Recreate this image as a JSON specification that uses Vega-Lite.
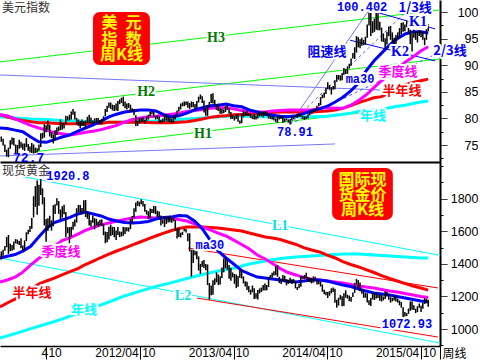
{
"$schema": "https://vega.github.io/schema/vega-lite/v6.json",
"padding": 0,
"spacing": 0,
"bounds": "flush",
"background": "white",
"config": {"view": {"stroke": null}, "axis": {"grid": false}, "font": "Liberation Sans"},
"resolve": {"scale": {"x": "independent", "y": "independent", "color": "independent"}},
"datasets": {
"wu": [
{"d":"2011-04-08","v":75.6,"v2":76.6},{"d":"2011-04-15","v":74.9,"v2":76.2},{"d":"2011-04-22","v":73.7,"v2":75.1},{"d":"2011-04-29","v":72.8,"v2":74.1},{"d":"2011-05-06","v":72.7,"v2":74.5},{"d":"2011-05-13","v":74.3,"v2":75.9},{"d":"2011-05-20","v":75.1,"v2":76.4},{"d":"2011-05-27","v":74.9,"v2":76.3},{"d":"2011-06-03","v":73.5,"v2":75.1},{"d":"2011-06-10","v":73.5,"v2":75.0},{"d":"2011-06-17","v":74.3,"v2":76.0},{"d":"2011-06-24","v":74.5,"v2":75.6},{"d":"2011-07-01","v":74.1,"v2":75.3},{"d":"2011-07-08","v":73.9,"v2":75.3},{"d":"2011-07-15","v":74.6,"v2":76.3},{"d":"2011-07-22","v":73.9,"v2":75.2},{"d":"2011-07-29","v":73.6,"v2":74.7},{"d":"2011-08-05","v":73.5,"v2":75.4},{"d":"2011-08-12","v":73.4,"v2":75.1},{"d":"2011-08-19","v":73.5,"v2":74.5},{"d":"2011-08-26","v":73.6,"v2":74.4},{"d":"2011-09-02","v":73.9,"v2":75.1},{"d":"2011-09-09","v":74.6,"v2":77.2},{"d":"2011-09-16","v":76.2,"v2":77.3},{"d":"2011-09-23","v":76.4,"v2":78.9},{"d":"2011-09-30","v":77.4,"v2":78.7},{"d":"2011-10-07","v":77.9,"v2":79.6},{"d":"2011-10-14","v":76.6,"v2":78.8},{"d":"2011-10-21","v":76.3,"v2":77.4},{"d":"2011-10-28","v":75.3,"v2":77.0},{"d":"2011-11-04","v":75.9,"v2":77.8},{"d":"2011-11-11","v":76.9,"v2":78.3},{"d":"2011-11-18","v":77.6,"v2":78.5},{"d":"2011-11-25","v":77.8,"v2":79.8},{"d":"2011-12-02","v":77.9,"v2":79.2},{"d":"2011-12-09","v":78.1,"v2":79.2},{"d":"2011-12-16","v":79.0,"v2":80.5},{"d":"2011-12-23","v":79.6,"v2":80.4},{"d":"2011-12-30","v":79.6,"v2":80.7},
{"d":"2012-01-06","v":79.8,"v2":81.3},{"d":"2012-01-13","v":80.7,"v2":81.8},{"d":"2012-01-20","v":79.8,"v2":81.3},{"d":"2012-01-27","v":78.9,"v2":80.1},{"d":"2012-02-03","v":78.6,"v2":79.8},{"d":"2012-02-10","v":78.2,"v2":79.5},{"d":"2012-02-17","v":78.6,"v2":79.8},{"d":"2012-02-24","v":78.6,"v2":79.5},{"d":"2012-03-02","v":78.1,"v2":79.6},{"d":"2012-03-09","v":79.2,"v2":80.3},{"d":"2012-03-16","v":79.1,"v2":80.7},{"d":"2012-03-23","v":79.1,"v2":80.2},{"d":"2012-03-30","v":78.9,"v2":79.6},{"d":"2012-04-06","v":79.1,"v2":80.0},{"d":"2012-04-13","v":79.3,"v2":80.1},{"d":"2012-04-20","v":79.1,"v2":80.1},{"d":"2012-04-27","v":78.9,"v2":79.7},{"d":"2012-05-04","v":78.9,"v2":79.9},{"d":"2012-05-11","v":79.6,"v2":80.4},{"d":"2012-05-18","v":80.4,"v2":81.8},{"d":"2012-05-25","v":81.2,"v2":82.4},{"d":"2012-06-01","v":82.0,"v2":83.0},{"d":"2012-06-08","v":81.8,"v2":83.0},{"d":"2012-06-15","v":81.5,"v2":82.6},{"d":"2012-06-22","v":81.4,"v2":82.5},{"d":"2012-06-29","v":81.5,"v2":82.8},{"d":"2012-07-06","v":81.4,"v2":83.3},{"d":"2012-07-13","v":82.7,"v2":83.6},{"d":"2012-07-20","v":82.9,"v2":83.9},{"d":"2012-07-27","v":82.3,"v2":84.1},{"d":"2012-08-03","v":81.9,"v2":83.2},{"d":"2012-08-10","v":81.7,"v2":82.8},{"d":"2012-08-17","v":82.0,"v2":82.9},{"d":"2012-08-24","v":81.4,"v2":82.6},{"d":"2012-08-31","v":81.2,"v2":81.9},{"d":"2012-09-07","v":80.6,"v2":81.8},{"d":"2012-09-14","v":78.6,"v2":80.6},{"d":"2012-09-21","v":78.6,"v2":79.6},{"d":"2012-09-28","v":79.1,"v2":80.1},{"d":"2012-10-05","v":79.3,"v2":80.1},{"d":"2012-10-12","v":79.4,"v2":80.2},{"d":"2012-10-19","v":79.0,"v2":79.8},{"d":"2012-10-26","v":79.5,"v2":80.4},{"d":"2012-11-02","v":79.8,"v2":80.7},{"d":"2012-11-09","v":80.4,"v2":81.2},{"d":"2012-11-16","v":80.8,"v2":81.5},{"d":"2012-11-23","v":80.3,"v2":81.2},{"d":"2012-11-30","v":79.8,"v2":80.4},{"d":"2012-12-07","v":79.9,"v2":80.6},{"d":"2012-12-14","v":79.2,"v2":80.4},{"d":"2012-12-21","v":79.2,"v2":79.7},{"d":"2012-12-28","v":79.3,"v2":80.0},
{"d":"2013-01-04","v":79.4,"v2":80.7},{"d":"2013-01-11","v":79.6,"v2":80.7},{"d":"2013-01-18","v":79.4,"v2":80.4},{"d":"2013-01-25","v":79.3,"v2":80.2},{"d":"2013-02-01","v":79.1,"v2":79.9},{"d":"2013-02-08","v":79.2,"v2":80.4},{"d":"2013-02-15","v":79.8,"v2":80.7},{"d":"2013-02-22","v":80.5,"v2":81.5},{"d":"2013-03-01","v":81.3,"v2":82.2},{"d":"2013-03-08","v":81.7,"v2":82.8},{"d":"2013-03-15","v":82.3,"v2":83.0},{"d":"2013-03-22","v":82.3,"v2":83.2},{"d":"2013-03-29","v":82.5,"v2":83.2},{"d":"2013-04-05","v":82.0,"v2":83.2},{"d":"2013-04-12","v":81.8,"v2":82.9},{"d":"2013-04-19","v":82.1,"v2":83.2},{"d":"2013-04-26","v":82.1,"v2":83.1},{"d":"2013-05-03","v":81.6,"v2":82.7},{"d":"2013-05-10","v":81.9,"v2":83.3},{"d":"2013-05-17","v":83.0,"v2":84.1},{"d":"2013-05-24","v":83.6,"v2":84.5},{"d":"2013-05-31","v":82.9,"v2":84.2},{"d":"2013-06-07","v":81.1,"v2":83.4},{"d":"2013-06-14","v":80.5,"v2":81.9},{"d":"2013-06-21","v":80.5,"v2":82.4},{"d":"2013-06-28","v":82.1,"v2":83.1},{"d":"2013-07-05","v":82.9,"v2":84.6},{"d":"2013-07-12","v":82.8,"v2":84.75},{"d":"2013-07-19","v":82.5,"v2":83.5},{"d":"2013-07-26","v":81.6,"v2":82.6},{"d":"2013-08-02","v":81.4,"v2":82.8},{"d":"2013-08-09","v":80.9,"v2":81.9},{"d":"2013-08-16","v":80.9,"v2":81.8},{"d":"2013-08-23","v":81.0,"v2":81.7},{"d":"2013-08-30","v":81.2,"v2":82.3},{"d":"2013-09-06","v":81.6,"v2":82.6},{"d":"2013-09-13","v":80.9,"v2":81.9},{"d":"2013-09-20","v":79.9,"v2":81.2},{"d":"2013-09-27","v":79.9,"v2":80.6},{"d":"2013-10-04","v":79.6,"v2":80.4},{"d":"2013-10-11","v":79.9,"v2":80.8},{"d":"2013-10-18","v":79.4,"v2":80.9},{"d":"2013-10-25","v":79.0,"v2":79.6},{"d":"2013-11-01","v":79.1,"v2":80.9},{"d":"2013-11-08","v":80.2,"v2":81.5},{"d":"2013-11-15","v":80.5,"v2":81.2},{"d":"2013-11-22","v":80.5,"v2":81.5},{"d":"2013-11-29","v":80.5,"v2":81.0},{"d":"2013-12-06","v":80.1,"v2":80.9},{"d":"2013-12-13","v":79.9,"v2":80.5},{"d":"2013-12-20","v":79.8,"v2":80.9},{"d":"2013-12-27","v":79.8,"v2":80.5},
{"d":"2014-01-03","v":80.0,"v2":81.0},{"d":"2014-01-10","v":80.4,"v2":81.3},{"d":"2014-01-17","v":80.4,"v2":81.2},{"d":"2014-01-24","v":80.2,"v2":81.3},{"d":"2014-01-31","v":80.5,"v2":81.4},{"d":"2014-02-07","v":80.5,"v2":81.3},{"d":"2014-02-14","v":80.0,"v2":81.0},{"d":"2014-02-21","v":79.9,"v2":80.5},{"d":"2014-02-28","v":79.8,"v2":80.4},{"d":"2014-03-07","v":79.6,"v2":80.3},{"d":"2014-03-14","v":79.3,"v2":80.0},{"d":"2014-03-21","v":79.2,"v2":80.4},{"d":"2014-03-28","v":79.8,"v2":80.4},{"d":"2014-04-04","v":79.9,"v2":80.5},{"d":"2014-04-11","v":79.2,"v2":80.4},{"d":"2014-04-18","v":79.3,"v2":80.0},{"d":"2014-04-25","v":79.6,"v2":80.0},{"d":"2014-05-02","v":79.2,"v2":79.8},{"d":"2014-05-09","v":78.91,"v2":79.9},{"d":"2014-05-16","v":79.6,"v2":80.3},{"d":"2014-05-23","v":79.9,"v2":80.4},{"d":"2014-05-30","v":80.2,"v2":80.6},{"d":"2014-06-06","v":80.1,"v2":80.8},{"d":"2014-06-13","v":80.3,"v2":80.9},{"d":"2014-06-20","v":80.3,"v2":80.9},{"d":"2014-06-27","v":79.9,"v2":80.5},{"d":"2014-07-04","v":79.7,"v2":80.4},{"d":"2014-07-11","v":79.9,"v2":80.4},{"d":"2014-07-18","v":80.0,"v2":80.8},{"d":"2014-07-25","v":80.6,"v2":81.1},{"d":"2014-08-01","v":80.9,"v2":81.6},{"d":"2014-08-08","v":81.3,"v2":81.7},{"d":"2014-08-15","v":81.2,"v2":81.7},{"d":"2014-08-22","v":81.5,"v2":82.4},{"d":"2014-08-29","v":82.3,"v2":82.9},{"d":"2014-09-05","v":82.5,"v2":84.0},{"d":"2014-09-12","v":83.8,"v2":84.5},{"d":"2014-09-19","v":83.9,"v2":84.9},{"d":"2014-09-26","v":84.6,"v2":85.8},{"d":"2014-10-03","v":85.5,"v2":86.8},{"d":"2014-10-10","v":85.4,"v2":86.3},{"d":"2014-10-17","v":84.5,"v2":85.9},{"d":"2014-10-24","v":85.4,"v2":86.1},{"d":"2014-10-31","v":85.5,"v2":87.2},{"d":"2014-11-07","v":86.9,"v2":88.2},{"d":"2014-11-14","v":87.3,"v2":88.2},{"d":"2014-11-21","v":87.1,"v2":88.1},{"d":"2014-11-28","v":87.2,"v2":88.5},{"d":"2014-12-05","v":88.2,"v2":89.5},{"d":"2014-12-12","v":88.2,"v2":89.3},{"d":"2014-12-19","v":88.4,"v2":89.8},{"d":"2014-12-26","v":89.4,"v2":90.3},
{"d":"2015-01-02","v":89.9,"v2":91.3},{"d":"2015-01-09","v":91.3,"v2":92.3},{"d":"2015-01-16","v":91.2,"v2":93.4},{"d":"2015-01-23","v":92.4,"v2":95.5},{"d":"2015-01-30","v":93.4,"v2":95.3},{"d":"2015-02-06","v":93.2,"v2":94.9},{"d":"2015-02-13","v":93.7,"v2":95.2},{"d":"2015-02-20","v":93.8,"v2":94.8},{"d":"2015-02-27","v":93.9,"v2":95.4},{"d":"2015-03-06","v":95.2,"v2":97.7},{"d":"2015-03-13","v":97.5,"v2":100.4},{"d":"2015-03-20","v":95.5,"v2":100.2},{"d":"2015-03-27","v":96.1,"v2":98.3},{"d":"2015-04-03","v":96.3,"v2":98.8},{"d":"2015-04-10","v":96.7,"v2":99.9},{"d":"2015-04-17","v":96.6,"v2":99.8},{"d":"2015-04-24","v":96.6,"v2":98.2},{"d":"2015-05-01","v":94.5,"v2":97.1},{"d":"2015-05-08","v":94.4,"v2":96.0},{"d":"2015-05-15","v":93.1,"v2":95.1},{"d":"2015-05-22","v":93.9,"v2":96.3},{"d":"2015-05-29","v":95.5,"v2":97.3},{"d":"2015-06-05","v":94.8,"v2":97.4},{"d":"2015-06-12","v":94.3,"v2":96.2},{"d":"2015-06-19","v":93.8,"v2":95.2},{"d":"2015-06-26","v":93.8,"v2":95.7},{"d":"2015-07-03","v":94.9,"v2":96.2},{"d":"2015-07-10","v":95.4,"v2":97.0},{"d":"2015-07-17","v":95.8,"v2":98.0},{"d":"2015-07-24","v":96.3,"v2":98.1},{"d":"2015-07-31","v":96.4,"v2":97.7},{"d":"2015-08-07","v":97.2,"v2":98.3},{"d":"2015-08-14","v":95.9,"v2":97.5},{"d":"2015-08-21","v":94.0,"v2":96.7},{"d":"2015-08-28","v":92.6,"v2":96.0},{"d":"2015-09-04","v":95.2,"v2":96.7},{"d":"2015-09-11","v":94.8,"v2":96.3},{"d":"2015-09-18","v":94.3,"v2":96.4},{"d":"2015-09-25","v":95.5,"v2":96.6},{"d":"2015-10-02","v":95.3,"v2":96.5},{"d":"2015-10-09","v":94.8,"v2":96.3},{"d":"2015-10-16","v":93.8,"v2":95.2},{"d":"2015-10-23","v":94.8,"v2":96.8},{"d":"2015-10-30","v":96.4,"v2":97.8}
],
"wg": [
{"d":"2011-04-08","v":1427,"v2":1476},{"d":"2011-04-15","v":1450,"v2":1487},{"d":"2011-04-22","v":1480,"v2":1509},{"d":"2011-04-29","v":1502,"v2":1564},{"d":"2011-05-06","v":1462,"v2":1577},{"d":"2011-05-13","v":1478,"v2":1524},{"d":"2011-05-20","v":1480,"v2":1515},{"d":"2011-05-27","v":1487,"v2":1537},{"d":"2011-06-03","v":1526,"v2":1552},{"d":"2011-06-10","v":1521,"v2":1549},{"d":"2011-06-17","v":1515,"v2":1541},{"d":"2011-06-24","v":1496,"v2":1557},{"d":"2011-07-01","v":1478,"v2":1513},{"d":"2011-07-08","v":1482,"v2":1544},{"d":"2011-07-15","v":1540,"v2":1594},{"d":"2011-07-22","v":1582,"v2":1610},{"d":"2011-07-29","v":1595,"v2":1632},{"d":"2011-08-05","v":1616,"v2":1681},{"d":"2011-08-12","v":1685,"v2":1815},{"d":"2011-08-19","v":1750,"v2":1877},{"d":"2011-08-26","v":1702,"v2":1912},{"d":"2011-09-02","v":1756,"v2":1885},{"d":"2011-09-09","v":1822,"v2":1921},{"d":"2011-09-16","v":1765,"v2":1863},{"d":"2011-09-23","v":1636,"v2":1808},{"d":"2011-09-30","v":1535,"v2":1675},{"d":"2011-10-07","v":1601,"v2":1680},{"d":"2011-10-14","v":1629,"v2":1695},{"d":"2011-10-21","v":1604,"v2":1667},{"d":"2011-10-28","v":1630,"v2":1760},{"d":"2011-11-04","v":1706,"v2":1766},{"d":"2011-11-11","v":1758,"v2":1803},{"d":"2011-11-18","v":1707,"v2":1785},{"d":"2011-11-25","v":1672,"v2":1734},{"d":"2011-12-02","v":1684,"v2":1754},{"d":"2011-12-09","v":1705,"v2":1763},{"d":"2011-12-16","v":1564,"v2":1718},{"d":"2011-12-23","v":1588,"v2":1625},{"d":"2011-12-30","v":1523,"v2":1625},
{"d":"2012-01-06","v":1567,"v2":1627},{"d":"2012-01-13","v":1610,"v2":1658},{"d":"2012-01-20","v":1630,"v2":1672},{"d":"2012-01-27","v":1653,"v2":1741},{"d":"2012-02-03","v":1718,"v2":1762},{"d":"2012-02-10","v":1712,"v2":1761},{"d":"2012-02-17","v":1705,"v2":1743},{"d":"2012-02-24","v":1725,"v2":1790},{"d":"2012-03-02","v":1688,"v2":1792},{"d":"2012-03-09","v":1677,"v2":1715},{"d":"2012-03-16","v":1636,"v2":1713},{"d":"2012-03-23","v":1627,"v2":1668},{"d":"2012-03-30","v":1653,"v2":1696},{"d":"2012-04-06","v":1612,"v2":1680},{"d":"2012-04-13","v":1636,"v2":1677},{"d":"2012-04-20","v":1627,"v2":1660},{"d":"2012-04-27","v":1637,"v2":1670},{"d":"2012-05-04","v":1632,"v2":1673},{"d":"2012-05-11","v":1576,"v2":1645},{"d":"2012-05-18","v":1527,"v2":1598},{"d":"2012-05-25","v":1532,"v2":1595},{"d":"2012-06-01","v":1549,"v2":1628},{"d":"2012-06-08","v":1571,"v2":1641},{"d":"2012-06-15","v":1577,"v2":1627},{"d":"2012-06-22","v":1563,"v2":1626},{"d":"2012-06-29","v":1547,"v2":1605},{"d":"2012-07-06","v":1577,"v2":1626},{"d":"2012-07-13","v":1564,"v2":1599},{"d":"2012-07-20","v":1568,"v2":1597},{"d":"2012-07-27","v":1572,"v2":1627},{"d":"2012-08-03","v":1583,"v2":1624},{"d":"2012-08-10","v":1600,"v2":1624},{"d":"2012-08-17","v":1598,"v2":1624},{"d":"2012-08-24","v":1613,"v2":1675},{"d":"2012-08-31","v":1652,"v2":1693},{"d":"2012-09-07","v":1683,"v2":1741},{"d":"2012-09-14","v":1720,"v2":1777},{"d":"2012-09-21","v":1756,"v2":1787},{"d":"2012-09-28","v":1752,"v2":1781},{"d":"2012-10-05","v":1766,"v2":1796},{"d":"2012-10-12","v":1752,"v2":1786},{"d":"2012-10-19","v":1719,"v2":1768},{"d":"2012-10-26","v":1702,"v2":1730},{"d":"2012-11-02","v":1675,"v2":1722},{"d":"2012-11-09","v":1681,"v2":1740},{"d":"2012-11-16","v":1712,"v2":1737},{"d":"2012-11-23","v":1710,"v2":1755},{"d":"2012-11-30","v":1705,"v2":1754},{"d":"2012-12-07","v":1684,"v2":1726},{"d":"2012-12-14","v":1688,"v2":1722},{"d":"2012-12-21","v":1636,"v2":1697},{"d":"2012-12-28","v":1647,"v2":1670},
{"d":"2013-01-04","v":1626,"v2":1694},{"d":"2013-01-11","v":1645,"v2":1679},{"d":"2013-01-18","v":1654,"v2":1694},{"d":"2013-01-25","v":1656,"v2":1696},{"d":"2013-02-01","v":1652,"v2":1681},{"d":"2013-02-08","v":1662,"v2":1682},{"d":"2013-02-15","v":1605,"v2":1669},{"d":"2013-02-22","v":1555,"v2":1619},{"d":"2013-03-01","v":1565,"v2":1619},{"d":"2013-03-08","v":1562,"v2":1591},{"d":"2013-03-15","v":1577,"v2":1597},{"d":"2013-03-22","v":1600,"v2":1616},{"d":"2013-03-29","v":1592,"v2":1614},{"d":"2013-04-05","v":1539,"v2":1588},{"d":"2013-04-12","v":1476,"v2":1587},{"d":"2013-04-19","v":1321,"v2":1486},{"d":"2013-04-26","v":1406,"v2":1485},{"d":"2013-05-03","v":1453,"v2":1488},{"d":"2013-05-10","v":1428,"v2":1477},{"d":"2013-05-17","v":1359,"v2":1446},{"d":"2013-05-24","v":1338,"v2":1400},{"d":"2013-05-31","v":1382,"v2":1417},{"d":"2013-06-07","v":1375,"v2":1424},{"d":"2013-06-14","v":1361,"v2":1399},{"d":"2013-06-21","v":1270,"v2":1396},{"d":"2013-06-28","v":1180,"v2":1282},{"d":"2013-07-05","v":1207,"v2":1267},{"d":"2013-07-12","v":1211,"v2":1299},{"d":"2013-07-19","v":1271,"v2":1311},{"d":"2013-07-26","v":1287,"v2":1348},{"d":"2013-08-02","v":1270,"v2":1335},{"d":"2013-08-09","v":1273,"v2":1324},{"d":"2013-08-16","v":1313,"v2":1377},{"d":"2013-08-23","v":1348,"v2":1433},{"d":"2013-08-30","v":1375,"v2":1434},{"d":"2013-09-06","v":1364,"v2":1424},{"d":"2013-09-13","v":1308,"v2":1393},{"d":"2013-09-20","v":1296,"v2":1375},{"d":"2013-09-27","v":1317,"v2":1347},{"d":"2013-10-04","v":1277,"v2":1338},{"d":"2013-10-11","v":1251,"v2":1335},{"d":"2013-10-18","v":1259,"v2":1326},{"d":"2013-10-25","v":1315,"v2":1361},{"d":"2013-11-01","v":1310,"v2":1362},{"d":"2013-11-08","v":1280,"v2":1323},{"d":"2013-11-15","v":1261,"v2":1293},{"d":"2013-11-22","v":1239,"v2":1290},{"d":"2013-11-29","v":1226,"v2":1264},{"d":"2013-12-06","v":1211,"v2":1241},{"d":"2013-12-13","v":1226,"v2":1267},{"d":"2013-12-20","v":1185,"v2":1250},{"d":"2013-12-27","v":1187,"v2":1219},
{"d":"2014-01-03","v":1182,"v2":1240},{"d":"2014-01-10","v":1219,"v2":1249},{"d":"2014-01-17","v":1227,"v2":1255},{"d":"2014-01-24","v":1237,"v2":1271},{"d":"2014-01-31","v":1237,"v2":1280},{"d":"2014-02-07","v":1238,"v2":1270},{"d":"2014-02-14","v":1258,"v2":1320},{"d":"2014-02-21","v":1311,"v2":1332},{"d":"2014-02-28","v":1317,"v2":1345},{"d":"2014-03-07","v":1328,"v2":1355},{"d":"2014-03-14","v":1330,"v2":1383},{"d":"2014-03-21","v":1321,"v2":1392},{"d":"2014-03-28","v":1282,"v2":1320},{"d":"2014-04-04","v":1277,"v2":1307},{"d":"2014-04-11","v":1296,"v2":1331},{"d":"2014-04-18","v":1290,"v2":1327},{"d":"2014-04-25","v":1268,"v2":1306},{"d":"2014-05-02","v":1277,"v2":1303},{"d":"2014-05-09","v":1285,"v2":1315},{"d":"2014-05-16","v":1277,"v2":1305},{"d":"2014-05-23","v":1283,"v2":1306},{"d":"2014-05-30","v":1250,"v2":1296},{"d":"2014-06-06","v":1240,"v2":1258},{"d":"2014-06-13","v":1250,"v2":1278},{"d":"2014-06-20","v":1260,"v2":1325},{"d":"2014-06-27","v":1309,"v2":1326},{"d":"2014-07-04","v":1311,"v2":1332},{"d":"2014-07-11","v":1309,"v2":1346},{"d":"2014-07-18","v":1292,"v2":1320},{"d":"2014-07-25","v":1287,"v2":1313},{"d":"2014-08-01","v":1280,"v2":1312},{"d":"2014-08-08","v":1285,"v2":1323},{"d":"2014-08-15","v":1297,"v2":1321},{"d":"2014-08-22","v":1273,"v2":1302},{"d":"2014-08-29","v":1275,"v2":1297},{"d":"2014-09-05","v":1261,"v2":1290},{"d":"2014-09-12","v":1229,"v2":1273},{"d":"2014-09-19","v":1213,"v2":1241},{"d":"2014-09-26","v":1208,"v2":1229},{"d":"2014-10-03","v":1190,"v2":1228},{"d":"2014-10-10","v":1205,"v2":1233},{"d":"2014-10-17","v":1219,"v2":1250},{"d":"2014-10-24","v":1227,"v2":1255},{"d":"2014-10-31","v":1161,"v2":1248},{"d":"2014-11-07","v":1131,"v2":1180},{"d":"2014-11-14","v":1144,"v2":1192},{"d":"2014-11-21","v":1180,"v2":1209},{"d":"2014-11-28","v":1140,"v2":1202},{"d":"2014-12-05","v":1142,"v2":1220},{"d":"2014-12-12","v":1192,"v2":1238},{"d":"2014-12-19","v":1187,"v2":1210},{"d":"2014-12-26","v":1171,"v2":1205},
{"d":"2015-01-02","v":1167,"v2":1196},{"d":"2015-01-09","v":1197,"v2":1224},{"d":"2015-01-16","v":1222,"v2":1282},{"d":"2015-01-23","v":1275,"v2":1308},{"d":"2015-01-30","v":1253,"v2":1300},{"d":"2015-02-06","v":1232,"v2":1285},{"d":"2015-02-13","v":1216,"v2":1245},{"d":"2015-02-20","v":1192,"v2":1235},{"d":"2015-02-27","v":1192,"v2":1221},{"d":"2015-03-06","v":1163,"v2":1220},{"d":"2015-03-13","v":1147,"v2":1177},{"d":"2015-03-20","v":1142,"v2":1190},{"d":"2015-03-27","v":1182,"v2":1220},{"d":"2015-04-03","v":1178,"v2":1224},{"d":"2015-04-10","v":1187,"v2":1224},{"d":"2015-04-17","v":1190,"v2":1209},{"d":"2015-04-24","v":1174,"v2":1210},{"d":"2015-05-01","v":1169,"v2":1213},{"d":"2015-05-08","v":1176,"v2":1200},{"d":"2015-05-15","v":1185,"v2":1232},{"d":"2015-05-22","v":1199,"v2":1228},{"d":"2015-05-29","v":1180,"v2":1214},{"d":"2015-06-05","v":1162,"v2":1196},{"d":"2015-06-12","v":1170,"v2":1191},{"d":"2015-06-19","v":1175,"v2":1205},{"d":"2015-06-26","v":1169,"v2":1205},{"d":"2015-07-03","v":1162,"v2":1187},{"d":"2015-07-10","v":1146,"v2":1175},{"d":"2015-07-17","v":1131,"v2":1166},{"d":"2015-07-24","v":1073,"v2":1134},{"d":"2015-07-31","v":1077,"v2":1105},{"d":"2015-08-07","v":1080,"v2":1098},{"d":"2015-08-14","v":1093,"v2":1126},{"d":"2015-08-21","v":1112,"v2":1169},{"d":"2015-08-28","v":1119,"v2":1170},{"d":"2015-09-04","v":1117,"v2":1146},{"d":"2015-09-11","v":1098,"v2":1125},{"d":"2015-09-18","v":1104,"v2":1140},{"d":"2015-09-25","v":1131,"v2":1157},{"d":"2015-10-02","v":1105,"v2":1143},{"d":"2015-10-09","v":1125,"v2":1160},{"d":"2015-10-16","v":1154,"v2":1191},{"d":"2015-10-23","v":1160,"v2":1184},{"d":"2015-10-30","v":1137,"v2":1180}
],
"topma": [
{"k":"c","d":"2011-04-03","v":80.3},{"k":"c","d":"2011-06-01","v":80.1},{"k":"c","d":"2011-08-01","v":79.9},{"k":"c","d":"2011-10-01","v":79.8},{"k":"c","d":"2011-12-01","v":79.6},{"k":"c","d":"2012-02-01","v":79.5},{"k":"c","d":"2012-04-01","v":79.4},{"k":"c","d":"2012-06-01","v":79.3},{"k":"c","d":"2012-08-01","v":79.3},{"k":"c","d":"2012-10-01","v":79.4},{"k":"c","d":"2012-12-01","v":79.5},{"k":"c","d":"2013-02-01","v":79.7},{"k":"c","d":"2013-04-01","v":79.9},{"k":"c","d":"2013-06-01","v":80.1},{"k":"c","d":"2013-08-01","v":80.3},{"k":"c","d":"2013-10-01","v":80.5},{"k":"c","d":"2013-12-01","v":80.4},{"k":"c","d":"2014-02-01","v":80.3},{"k":"c","d":"2014-04-01","v":80.3},{"k":"c","d":"2014-06-01","v":80.3},{"k":"c","d":"2014-08-01","v":80.3},{"k":"c","d":"2014-10-01","v":80.4},{"k":"c","d":"2014-11-01","v":80.6},{"k":"c","d":"2014-12-01","v":80.8},{"k":"c","d":"2015-01-01","v":81.0},{"k":"c","d":"2015-02-01","v":81.3},{"k":"c","d":"2015-03-01","v":81.5},{"k":"c","d":"2015-04-01","v":81.6},{"k":"c","d":"2015-05-01","v":81.7},{"k":"c","d":"2015-06-01","v":82.0},{"k":"c","d":"2015-07-01","v":82.3},{"k":"c","d":"2015-08-01","v":82.5},{"k":"c","d":"2015-09-01","v":82.8},{"k":"c","d":"2015-10-01","v":83.1},{"k":"c","d":"2015-10-30","v":83.3},
{"k":"r","d":"2011-04-03","v":80.7},{"k":"r","d":"2011-05-01","v":80.3},{"k":"r","d":"2011-06-01","v":79.9},{"k":"r","d":"2011-07-01","v":79.6},{"k":"r","d":"2011-08-01","v":79.4},{"k":"r","d":"2011-09-01","v":79.2},{"k":"r","d":"2011-10-01","v":79.2},{"k":"r","d":"2011-11-01","v":79.1},{"k":"r","d":"2011-12-01","v":79.0},{"k":"r","d":"2012-01-01","v":79.0},{"k":"r","d":"2012-03-01","v":79.0},{"k":"r","d":"2012-05-01","v":79.1},{"k":"r","d":"2012-06-01","v":79.3},{"k":"r","d":"2012-08-01","v":79.3},{"k":"r","d":"2012-10-01","v":79.3},{"k":"r","d":"2012-12-01","v":79.2},{"k":"r","d":"2013-02-01","v":79.2},{"k":"r","d":"2013-03-01","v":79.3},{"k":"r","d":"2013-04-01","v":79.4},{"k":"r","d":"2013-05-01","v":79.6},{"k":"r","d":"2013-06-01","v":79.9},{"k":"r","d":"2013-07-01","v":80.2},{"k":"r","d":"2013-08-01","v":80.4},{"k":"r","d":"2013-09-01","v":80.5},{"k":"r","d":"2013-10-01","v":80.7},{"k":"r","d":"2013-12-01","v":80.8},{"k":"r","d":"2014-01-01","v":80.9},{"k":"r","d":"2014-02-01","v":81.0},{"k":"r","d":"2014-03-01","v":81.1},{"k":"r","d":"2014-04-01","v":81.2},{"k":"r","d":"2014-08-01","v":81.2},{"k":"r","d":"2014-09-01","v":81.3},{"k":"r","d":"2014-10-01","v":81.4},{"k":"r","d":"2014-11-01","v":81.6},{"k":"r","d":"2014-12-01","v":81.9},{"k":"r","d":"2015-01-01","v":82.4},{"k":"r","d":"2015-02-01","v":83.0},{"k":"r","d":"2015-03-01","v":83.4},{"k":"r","d":"2015-04-01","v":83.9},{"k":"r","d":"2015-05-01","v":84.1},{"k":"r","d":"2015-06-01","v":84.8},{"k":"r","d":"2015-07-01","v":85.6},{"k":"r","d":"2015-08-01","v":86.3},{"k":"r","d":"2015-09-01","v":86.8},{"k":"r","d":"2015-10-01","v":87.1},{"k":"r","d":"2015-10-30","v":87.4},
{"k":"m","d":"2011-04-03","v":80.7},{"k":"m","d":"2011-05-01","v":80.5},{"k":"m","d":"2011-06-01","v":79.9},{"k":"m","d":"2011-07-01","v":79.3},{"k":"m","d":"2011-08-01","v":78.7},{"k":"m","d":"2011-09-01","v":78.2},{"k":"m","d":"2011-10-01","v":77.8},{"k":"m","d":"2011-11-01","v":77.3},{"k":"m","d":"2011-12-01","v":77.1},{"k":"m","d":"2012-01-01","v":76.9},{"k":"m","d":"2012-02-01","v":77.1},{"k":"m","d":"2012-03-01","v":77.4},{"k":"m","d":"2012-04-01","v":77.6},{"k":"m","d":"2012-05-01","v":77.9},{"k":"m","d":"2012-06-01","v":78.3},{"k":"m","d":"2012-07-01","v":78.7},{"k":"m","d":"2012-08-01","v":79.3},{"k":"m","d":"2012-09-01","v":79.8},{"k":"m","d":"2012-10-01","v":80.1},{"k":"m","d":"2012-11-01","v":80.3},{"k":"m","d":"2012-12-01","v":80.4},{"k":"m","d":"2013-01-01","v":80.6},{"k":"m","d":"2013-02-01","v":80.8},{"k":"m","d":"2013-03-01","v":81.0},{"k":"m","d":"2013-04-01","v":81.3},{"k":"m","d":"2013-05-01","v":81.5},{"k":"m","d":"2013-06-01","v":81.7},{"k":"m","d":"2013-07-01","v":81.9},{"k":"m","d":"2013-08-01","v":82.0},{"k":"m","d":"2013-09-01","v":82.0},{"k":"m","d":"2013-10-01","v":81.8},{"k":"m","d":"2013-11-01","v":81.5},{"k":"m","d":"2013-12-01","v":81.3},{"k":"m","d":"2014-01-01","v":81.2},{"k":"m","d":"2014-02-01","v":81.2},{"k":"m","d":"2014-03-01","v":81.4},{"k":"m","d":"2014-04-01","v":81.5},{"k":"m","d":"2014-05-01","v":81.6},{"k":"m","d":"2014-08-01","v":81.6},{"k":"m","d":"2014-09-01","v":81.9},{"k":"m","d":"2014-10-01","v":82.0},{"k":"m","d":"2014-11-01","v":81.9},{"k":"m","d":"2014-12-01","v":81.9},{"k":"m","d":"2015-01-01","v":82.5},{"k":"m","d":"2015-02-01","v":83.4},{"k":"m","d":"2015-03-01","v":84.4},{"k":"m","d":"2015-04-01","v":85.8},{"k":"m","d":"2015-05-01","v":87.1},{"k":"m","d":"2015-06-01","v":88.3},{"k":"m","d":"2015-07-01","v":89.3},{"k":"m","d":"2015-08-01","v":90.6},{"k":"m","d":"2015-09-01","v":91.6},{"k":"m","d":"2015-10-01","v":92.7},{"k":"m","d":"2015-10-30","v":93.5},
{"k":"b","d":"2011-04-03","v":78.2},{"k":"b","d":"2011-05-01","v":78.1},{"k":"b","d":"2011-06-01","v":77.8},{"k":"b","d":"2011-07-01","v":77.5},{"k":"b","d":"2011-08-01","v":76.5},{"k":"b","d":"2011-09-01","v":75.6},{"k":"b","d":"2011-10-01","v":75.5},{"k":"b","d":"2011-11-01","v":76.0},{"k":"b","d":"2011-12-01","v":76.5},{"k":"b","d":"2012-01-01","v":76.9},{"k":"b","d":"2012-02-01","v":77.6},{"k":"b","d":"2012-03-01","v":78.2},{"k":"b","d":"2012-04-01","v":78.8},{"k":"b","d":"2012-05-01","v":79.5},{"k":"b","d":"2012-06-01","v":80.3},{"k":"b","d":"2012-07-01","v":80.8},{"k":"b","d":"2012-08-01","v":81.2},{"k":"b","d":"2012-09-01","v":81.4},{"k":"b","d":"2012-10-01","v":81.6},{"k":"b","d":"2012-11-01","v":81.6},{"k":"b","d":"2012-12-01","v":81.4},{"k":"b","d":"2013-01-01","v":80.7},{"k":"b","d":"2013-02-01","v":80.3},{"k":"b","d":"2013-03-01","v":80.5},{"k":"b","d":"2013-04-01","v":81.0},{"k":"b","d":"2013-05-01","v":81.6},{"k":"b","d":"2013-06-01","v":82.0},{"k":"b","d":"2013-07-01","v":82.4},{"k":"b","d":"2013-08-01","v":82.5},{"k":"b","d":"2013-09-01","v":82.7},{"k":"b","d":"2013-10-01","v":82.4},{"k":"b","d":"2013-11-01","v":82.2},{"k":"b","d":"2013-12-01","v":81.6},{"k":"b","d":"2014-01-01","v":81.2},{"k":"b","d":"2014-02-01","v":80.8},{"k":"b","d":"2014-03-01","v":80.6},{"k":"b","d":"2014-04-01","v":80.4},{"k":"b","d":"2014-05-01","v":80.3},{"k":"b","d":"2014-06-01","v":80.5},{"k":"b","d":"2014-07-01","v":80.9},{"k":"b","d":"2014-08-01","v":81.4},{"k":"b","d":"2014-09-01","v":81.8},{"k":"b","d":"2014-10-01","v":82.3},{"k":"b","d":"2014-11-01","v":83.1},{"k":"b","d":"2014-12-01","v":84.0},{"k":"b","d":"2015-01-01","v":85.2},{"k":"b","d":"2015-02-01","v":86.7},{"k":"b","d":"2015-03-01","v":88.9},{"k":"b","d":"2015-04-01","v":90.8},{"k":"b","d":"2015-05-01","v":92.3},{"k":"b","d":"2015-06-01","v":93.8},{"k":"b","d":"2015-07-01","v":95.0},{"k":"b","d":"2015-08-01","v":95.9},{"k":"b","d":"2015-09-01","v":96.3},{"k":"b","d":"2015-10-01","v":96.3},{"k":"b","d":"2015-10-30","v":96.1}
],
"botma": [
{"k":"c","d":"2011-04-03","v":945},{"k":"c","d":"2011-06-01","v":972},{"k":"c","d":"2011-08-01","v":1003},{"k":"c","d":"2011-10-01","v":1031},{"k":"c","d":"2011-12-01","v":1061},{"k":"c","d":"2012-02-01","v":1098},{"k":"c","d":"2012-04-01","v":1132},{"k":"c","d":"2012-06-01","v":1166},{"k":"c","d":"2012-08-01","v":1203},{"k":"c","d":"2012-10-01","v":1233},{"k":"c","d":"2012-12-01","v":1261},{"k":"c","d":"2013-02-01","v":1285},{"k":"c","d":"2013-04-01","v":1310},{"k":"c","d":"2013-06-01","v":1335},{"k":"c","d":"2013-08-01","v":1356},{"k":"c","d":"2013-10-01","v":1374},{"k":"c","d":"2013-12-01","v":1399},{"k":"c","d":"2014-02-01","v":1417},{"k":"c","d":"2014-04-01","v":1433},{"k":"c","d":"2014-06-01","v":1442},{"k":"c","d":"2014-08-01","v":1448},{"k":"c","d":"2014-10-01","v":1454},{"k":"c","d":"2014-12-01","v":1460},{"k":"c","d":"2015-02-01","v":1460},{"k":"c","d":"2015-04-01","v":1454},{"k":"c","d":"2015-06-01","v":1448},{"k":"c","d":"2015-08-01","v":1442},{"k":"c","d":"2015-10-01","v":1436},{"k":"c","d":"2015-10-30","v":1436},
{"k":"r","d":"2011-04-03","v":1135},{"k":"r","d":"2011-05-01","v":1160},{"k":"r","d":"2011-06-01","v":1184},{"k":"r","d":"2011-07-01","v":1209},{"k":"r","d":"2011-08-01","v":1242},{"k":"r","d":"2011-09-01","v":1276},{"k":"r","d":"2011-10-01","v":1295},{"k":"r","d":"2011-11-01","v":1313},{"k":"r","d":"2011-12-01","v":1332},{"k":"r","d":"2012-01-01","v":1353},{"k":"r","d":"2012-02-01","v":1371},{"k":"r","d":"2012-03-01","v":1396},{"k":"r","d":"2012-04-01","v":1417},{"k":"r","d":"2012-05-01","v":1439},{"k":"r","d":"2012-06-01","v":1460},{"k":"r","d":"2012-07-01","v":1479},{"k":"r","d":"2012-08-01","v":1497},{"k":"r","d":"2012-09-01","v":1516},{"k":"r","d":"2012-10-01","v":1534},{"k":"r","d":"2012-11-01","v":1553},{"k":"r","d":"2012-12-01","v":1571},{"k":"r","d":"2013-01-01","v":1589},{"k":"r","d":"2013-02-01","v":1605},{"k":"r","d":"2013-03-01","v":1617},{"k":"r","d":"2013-04-01","v":1626},{"k":"r","d":"2013-06-01","v":1626},{"k":"r","d":"2013-07-01","v":1623},{"k":"r","d":"2013-08-01","v":1620},{"k":"r","d":"2013-09-01","v":1614},{"k":"r","d":"2013-10-01","v":1608},{"k":"r","d":"2013-11-01","v":1602},{"k":"r","d":"2013-12-01","v":1589},{"k":"r","d":"2014-01-01","v":1577},{"k":"r","d":"2014-02-01","v":1565},{"k":"r","d":"2014-03-01","v":1559},{"k":"r","d":"2014-04-01","v":1549},{"k":"r","d":"2014-05-01","v":1534},{"k":"r","d":"2014-06-01","v":1519},{"k":"r","d":"2014-07-01","v":1500},{"k":"r","d":"2014-08-01","v":1485},{"k":"r","d":"2014-09-01","v":1473},{"k":"r","d":"2014-10-01","v":1454},{"k":"r","d":"2014-11-01","v":1436},{"k":"r","d":"2014-12-01","v":1414},{"k":"r","d":"2015-01-01","v":1396},{"k":"r","d":"2015-02-01","v":1381},{"k":"r","d":"2015-03-01","v":1365},{"k":"r","d":"2015-04-01","v":1347},{"k":"r","d":"2015-05-01","v":1328},{"k":"r","d":"2015-06-01","v":1310},{"k":"r","d":"2015-07-01","v":1295},{"k":"r","d":"2015-08-01","v":1279},{"k":"r","d":"2015-09-01","v":1264},{"k":"r","d":"2015-10-01","v":1252},{"k":"r","d":"2015-10-30","v":1239},
{"k":"m","d":"2011-04-03","v":1289},{"k":"m","d":"2011-05-01","v":1301},{"k":"m","d":"2011-06-01","v":1319},{"k":"m","d":"2011-07-01","v":1349},{"k":"m","d":"2011-08-01","v":1394},{"k":"m","d":"2011-09-01","v":1433},{"k":"m","d":"2011-10-01","v":1466},{"k":"m","d":"2011-11-01","v":1505},{"k":"m","d":"2011-12-01","v":1543},{"k":"m","d":"2012-01-01","v":1559},{"k":"m","d":"2012-02-01","v":1583},{"k":"m","d":"2012-03-01","v":1605},{"k":"m","d":"2012-04-01","v":1623},{"k":"m","d":"2012-05-01","v":1639},{"k":"m","d":"2012-06-01","v":1651},{"k":"m","d":"2012-07-01","v":1663},{"k":"m","d":"2012-08-01","v":1672},{"k":"m","d":"2012-09-01","v":1681},{"k":"m","d":"2012-10-01","v":1688},{"k":"m","d":"2012-11-01","v":1685},{"k":"m","d":"2012-12-01","v":1681},{"k":"m","d":"2013-01-01","v":1681},{"k":"m","d":"2013-02-01","v":1678},{"k":"m","d":"2013-03-01","v":1672},{"k":"m","d":"2013-04-01","v":1663},{"k":"m","d":"2013-05-01","v":1645},{"k":"m","d":"2013-06-01","v":1626},{"k":"m","d":"2013-07-01","v":1608},{"k":"m","d":"2013-08-01","v":1589},{"k":"m","d":"2013-09-01","v":1571},{"k":"m","d":"2013-10-01","v":1546},{"k":"m","d":"2013-11-01","v":1519},{"k":"m","d":"2013-12-01","v":1491},{"k":"m","d":"2014-01-01","v":1454},{"k":"m","d":"2014-02-01","v":1430},{"k":"m","d":"2014-03-01","v":1402},{"k":"m","d":"2014-04-01","v":1371},{"k":"m","d":"2014-05-01","v":1347},{"k":"m","d":"2014-06-01","v":1332},{"k":"m","d":"2014-07-01","v":1316},{"k":"m","d":"2014-08-01","v":1307},{"k":"m","d":"2014-09-01","v":1301},{"k":"m","d":"2014-10-01","v":1295},{"k":"m","d":"2014-11-01","v":1289},{"k":"m","d":"2014-12-01","v":1282},{"k":"m","d":"2015-01-01","v":1273},{"k":"m","d":"2015-02-01","v":1264},{"k":"m","d":"2015-03-01","v":1258},{"k":"m","d":"2015-04-01","v":1252},{"k":"m","d":"2015-05-01","v":1243},{"k":"m","d":"2015-06-01","v":1233},{"k":"m","d":"2015-07-01","v":1227},{"k":"m","d":"2015-08-01","v":1218},{"k":"m","d":"2015-09-01","v":1209},{"k":"m","d":"2015-10-01","v":1200},{"k":"m","d":"2015-10-30","v":1193},
{"k":"b","d":"2011-04-03","v":1436},{"k":"b","d":"2011-05-01","v":1447},{"k":"b","d":"2011-06-01","v":1457},{"k":"b","d":"2011-07-01","v":1478},{"k":"b","d":"2011-08-01","v":1508},{"k":"b","d":"2011-09-01","v":1565},{"k":"b","d":"2011-10-01","v":1617},{"k":"b","d":"2011-11-01","v":1653},{"k":"b","d":"2011-12-01","v":1669},{"k":"b","d":"2012-01-01","v":1685},{"k":"b","d":"2012-02-01","v":1706},{"k":"b","d":"2012-03-01","v":1718},{"k":"b","d":"2012-04-01","v":1706},{"k":"b","d":"2012-05-01","v":1694},{"k":"b","d":"2012-06-01","v":1675},{"k":"b","d":"2012-07-01","v":1663},{"k":"b","d":"2012-08-01","v":1654},{"k":"b","d":"2012-09-01","v":1651},{"k":"b","d":"2012-10-01","v":1654},{"k":"b","d":"2012-11-01","v":1660},{"k":"b","d":"2012-12-01","v":1675},{"k":"b","d":"2013-01-01","v":1685},{"k":"b","d":"2013-02-01","v":1688},{"k":"b","d":"2013-03-01","v":1697},{"k":"b","d":"2013-04-01","v":1694},{"k":"b","d":"2013-05-01","v":1663},{"k":"b","d":"2013-06-01","v":1614},{"k":"b","d":"2013-07-01","v":1546},{"k":"b","d":"2013-08-01","v":1479},{"k":"b","d":"2013-09-01","v":1436},{"k":"b","d":"2013-10-01","v":1399},{"k":"b","d":"2013-11-01","v":1359},{"k":"b","d":"2013-12-01","v":1338},{"k":"b","d":"2014-01-01","v":1319},{"k":"b","d":"2014-02-01","v":1313},{"k":"b","d":"2014-03-01","v":1307},{"k":"b","d":"2014-04-01","v":1301},{"k":"b","d":"2014-05-01","v":1292},{"k":"b","d":"2014-06-01","v":1289},{"k":"b","d":"2014-07-01","v":1295},{"k":"b","d":"2014-08-01","v":1301},{"k":"b","d":"2014-09-01","v":1301},{"k":"b","d":"2014-10-01","v":1295},{"k":"b","d":"2014-11-01","v":1282},{"k":"b","d":"2014-12-01","v":1270},{"k":"b","d":"2015-01-01","v":1261},{"k":"b","d":"2015-02-01","v":1246},{"k":"b","d":"2015-03-01","v":1233},{"k":"b","d":"2015-04-01","v":1221},{"k":"b","d":"2015-05-01","v":1215},{"k":"b","d":"2015-06-01","v":1209},{"k":"b","d":"2015-07-01","v":1200},{"k":"b","d":"2015-08-01","v":1190},{"k":"b","d":"2015-09-01","v":1181},{"k":"b","d":"2015-10-01","v":1172},{"k":"b","d":"2015-10-30","v":1166}
],
"tA": [
{"t":"阻速线","d":"2014-09-30","v":92.52,"k":"b"},
{"t":"季度线","d":"2015-07-04","v":88.76,"k":"m"},
{"t":"半年线","d":"2015-07-20","v":85.18,"k":"r"},
{"t":"年线","d":"2015-03-29","v":80.47,"k":"c"},
{"t":"1/3线","d":"2015-09-09","v":100.7,"k":"b"},
{"t":"2/3线","d":"2016-01-23","v":92.71,"k":"b"}
],
"tB": [
{"t":"H3","d":"2013-07-24","v":95.16,"k":"g"},
{"t":"H2","d":"2012-10-24","v":84.99,"k":"g"},
{"t":"H1","d":"2013-06-03","v":77.08,"k":"g"},
{"t":"K1","d":"2015-09-20","v":98.17,"k":"b"},
{"t":"K2","d":"2015-07-12","v":92.52,"k":"b"}
],
"tC": [
{"t":"100.402","d":"2015-02-14","v":101.05,"k":"b"},
{"t":"78.91","d":"2014-05-28","v":77.46,"k":"b"},
{"t":"ma30","d":"2015-02-06","v":87.44,"k":"b"}
],
"bA": [
{"t":"季度线","d":"2011-11-27","v":1473,"k":"m"},
{"t":"半年线","d":"2011-08-06","v":1221,"k":"r"},
{"t":"年线","d":"2012-02-25","v":1117,"k":"c"}
],
"bB": [
{"t":"L1","d":"2014-03-31","v":1632,"k":"c"},
{"t":"L2","d":"2013-03-17","v":1203,"k":"c"}
],
"bC": [
{"t":"1920.8","d":"2011-12-24","v":1939,"k":"b"},
{"t":"ma30","d":"2013-06-30","v":1516,"k":"b"},
{"t":"1072.93","d":"2015-08-08","v":1031,"k":"b"}
]
},
"vconcat": [
{
"width": 440, "height": 162,
"encoding": {
 "x": {"field": "d", "type": "temporal", "scale": {"domain": [{"year":2011,"month":4,"date":3},{"year":2015,"month":12,"date":15}]}, "axis": {"orient": "bottom", "labels": false, "ticks": false, "title": null, "domainColor": "#000000", "domainWidth": 2}},
 "y": {"field": "v", "type": "quantitative", "scale": {"domain": [71.8, 102.3], "nice": false, "zero": false},
   "axis": {"orient": "right", "title": null, "values": [72.5,75,77.5,80,82.5,85,87.5,90,92.5,95,97.5,100], "labelExpr": "datum.value % 5 === 0 ? '' + datum.value : ''", "tickSize": 7, "tickDash": {"condition": {"test": "datum.value % 5 === 0", "value": [1, 0]}, "value": [3, 20]}, "tickColor": "#000000", "domainColor": "#000000", "domainWidth": 2, "labelColor": "#000000", "labelFont": "Liberation Sans", "labelFontSize": 12.5, "labelAlign": "right", "labelPadding": 31, "labelOverlap": false}}
},
"layer": [
{"data": {"values": [{"g":"H3","d":"2011-04-03","v":90.64},{"g":"H3","d":"2015-12-15","v":100.43},{"g":"H2","d":"2011-04-03","v":81.6},{"g":"H2","d":"2015-12-15","v":91.2},{"g":"H1","d":"2011-08-10","v":73.69},{"g":"H1","d":"2015-02-06","v":81.04}]},
 "mark": {"type": "line", "color": "#00ff00", "strokeWidth": 1, "clip": true},
 "encoding": {"detail": {"field": "g"}}},
{"data": {"values": [{"g":"V1","d":"2011-04-03","v":88.19},{"g":"V1","d":"2015-04-25","v":85.37},{"g":"V2","d":"2011-04-03","v":72.94},{"g":"V2","d":"2014-10-31","v":75.2},{"g":"V3","d":"2014-05-08","v":78.91},{"g":"V3","d":"2015-03-13","v":100.4}]},
 "mark": {"type": "line", "color": "#7777ff", "strokeWidth": 1, "clip": true},
 "encoding": {"detail": {"field": "g"}}},
{"data": {"values": [{"g":"S1","d":"2014-05-08","v":78.91},{"g":"S1","d":"2015-07-31","v":99.9},{"g":"S2","d":"2014-05-08","v":78.91},{"g":"S2","d":"2015-12-15","v":92.5}]},
 "mark": {"type": "line", "color": "#5555ff", "strokeWidth": 1, "strokeDash": [3, 3], "clip": true},
 "encoding": {"detail": {"field": "g"}}},
{"data": {"values": [{"g":"K1","d":"2015-03-13","v":100.4},{"g":"K1","d":"2015-11-26","v":96.86},{"g":"K2","d":"2014-12-29","v":94.73},{"g":"K2","d":"2015-11-26","v":90.83}]},
 "mark": {"type": "line", "color": "#0000ff", "strokeWidth": 1, "clip": true},
 "encoding": {"detail": {"field": "g"}}},
{"data": {"name": "topma"},
 "mark": {"type": "line", "strokeWidth": 3, "clip": true},
 "encoding": {"color": {"field": "k", "type": "nominal", "scale": {"domain": ["b","m","r","c","g","k"], "range": ["#0000ff","#ff00ff","#ff0000","#00ffff","#007a00","#333333"]}, "legend": null}}},
{"data": {"name": "wu"},
 "mark": {"type": "rule", "color": "#000000", "strokeWidth": 1.5},
 "encoding": {"y2": {"field": "v2"}}},
{"data": {"values": [{"d":"2012-03-31","d2":"2012-11-08","v":100.06,"v2":90.08}]},
 "mark": {"type": "rect", "color": "#ff0000", "cornerRadius": 7},
 "encoding": {"x2": {"field": "d2"}, "y2": {"field": "v2"}}},
{"data": {"values": [{"d":"2012-07-20","v":97.98,"t":"美\u2002元"},{"d":"2012-07-20","v":94.78,"t":"指\u2002数"},{"d":"2012-07-20","v":91.96,"t":"周K线"}]},
 "mark": {"type": "text", "font": "Noto Sans CJK SC", "fontWeight": "bold", "fontSize": 16, "color": "#ffff00", "align": "center", "baseline": "middle"},
 "encoding": {"text": {"field": "t"}}},
{"data": {"name": "tA"}, "mark": {"type": "text", "font": "Noto Sans CJK SC", "fontWeight": "bold", "fontSize": 13, "stroke": "#ffffff", "strokeWidth": 4, "strokeJoin": "round", "fill": "#ffffff"}, "encoding": {"text": {"field": "t"}}},
{"data": {"name": "tA"}, "mark": {"type": "text", "font": "Noto Sans CJK SC", "fontWeight": "bold", "fontSize": 13}, "encoding": {"text": {"field": "t"}, "color": {"field": "k", "type": "nominal", "scale": {"domain": ["b","m","r","c","g","k"], "range": ["#0000ff","#ff00ff","#ff0000","#00ffff","#007a00","#333333"]}, "legend": null}}},
{"data": {"name": "tB"}, "mark": {"type": "text", "font": "Liberation Serif", "fontWeight": "bold", "fontSize": 14, "stroke": "#ffffff", "strokeWidth": 4, "strokeJoin": "round", "fill": "#ffffff"}, "encoding": {"text": {"field": "t"}}},
{"data": {"name": "tB"}, "mark": {"type": "text", "font": "Liberation Serif", "fontWeight": "bold", "fontSize": 14}, "encoding": {"text": {"field": "t"}, "color": {"field": "k", "type": "nominal", "scale": {"domain": ["b","m","r","c","g","k"], "range": ["#0000ff","#ff00ff","#ff0000","#00ffff","#007a00","#333333"]}, "legend": null}}},
{"data": {"name": "tC"}, "mark": {"type": "text", "font": "Liberation Mono", "fontWeight": "bold", "fontSize": 12, "stroke": "#ffffff", "strokeWidth": 4, "strokeJoin": "round", "fill": "#ffffff"}, "encoding": {"text": {"field": "t"}}},
{"data": {"name": "tC"}, "mark": {"type": "text", "font": "Liberation Mono", "fontWeight": "bold", "fontSize": 12, "color": "#0000ff"}, "encoding": {"text": {"field": "t"}}},
{"data": {"values": [{"d":"2011-05-24","v":73.69,"t":"72.7"}]}, "mark": {"type": "text", "font": "Liberation Mono", "fontWeight": "bold", "fontSize": 13, "color": "#0000ff", "align": "left", "baseline": "top", "clip": true}, "encoding": {"text": {"field": "t"}}},
{"data": {"values": [{"d":"2011-04-11","v":100.85,"t":"美元指数"}]}, "mark": {"type": "text", "font": "Noto Sans CJK SC", "fontSize": 12, "color": "#333333", "align": "left", "baseline": "middle"}, "encoding": {"text": {"field": "t"}}}
]
},
{
"width": 440, "height": 184,
"encoding": {
 "x": {"field": "d", "type": "temporal", "scale": {"domain": [{"year":2011,"month":4,"date":3},{"year":2015,"month":12,"date":15}]},
 "axis": {"orient": "bottom", "title": "周线", "titleX": 442, "titleY": 2, "titleAlign": "left", "titleBaseline": "top", "titleFont": "Noto Sans CJK SC", "titleFontSize": 12, "titleFontWeight": "normal", "titleColor": "#000000",
  "values": [{"year":2011,"month":9,"date":4},{"year":2011,"month":10,"date":1},{"year":2012,"month":4,"date":1},{"year":2012,"month":10,"date":1},{"year":2013,"month":4,"date":1},{"year":2013,"month":10,"date":1},{"year":2014,"month":4,"date":1},{"year":2014,"month":10,"date":1},{"year":2015,"month":4,"date":1},{"year":2015,"month":10,"date":1},{"year":2015,"month":12,"date":15}],
  "labelExpr": "month(datum.value) == 8 ? '4' : month(datum.value) == 9 ? '10' : month(datum.value) == 3 ? timeFormat(datum.value, '%Y/%m') : ''",
  "tickColor": {"condition": {"test": "month(datum.value) == 9 || month(datum.value) == 11", "value": "#000000"}, "value": "transparent"},
  "tickSize": 13, "tickWidth": 1, "labelPadding": -12, "labelAlign": "left", "labelBaseline": "top", "labelOffset": 1.5, "labelFont": "Liberation Sans", "labelFontSize": 12, "labelColor": "#000000", "labelOverlap": false, "labelFlush": false, "labelBound": false, "domainColor": "#000000", "domainWidth": 1.5}},
 "y": {"field": "v", "type": "quantitative", "scale": {"domain": [896, 2025], "nice": false, "zero": false},
   "axis": {"orient": "right", "title": null, "values": [900,1000,1100,1200,1300,1400,1500,1600,1700,1800,1900,2000], "labelExpr": "datum.value % 200 === 0 && datum.value < 1900 ? '' + datum.value : ''", "tickSize": 7, "tickDash": {"condition": {"test": "datum.value % 200 === 0 && datum.value < 1900", "value": [1, 0]}, "value": [3, 20]}, "tickColor": "#000000", "domainColor": "#000000", "domainWidth": 2, "labelColor": "#000000", "labelFont": "Liberation Sans", "labelFontSize": 12.5, "labelAlign": "right", "labelPadding": 31, "labelOverlap": false}}
},
"layer": [
{"data": {"values": [{"g":"L1","d":"2011-07-09","v":1933},{"g":"L1","d":"2015-12-15","v":1452},{"g":"L2","d":"2011-04-03","v":1436},{"g":"L2","d":"2015-12-15","v":914}]},
 "mark": {"type": "line", "color": "#00ffff", "strokeWidth": 1, "clip": true},
 "encoding": {"detail": {"field": "g"}}},
{"data": {"values": [{"g":"R1","d":"2013-04-06","v":1497},{"g":"R1","d":"2015-12-07","v":1252},{"g":"R2","d":"2013-05-11","v":1190},{"g":"R2","d":"2015-12-07","v":951}]},
 "mark": {"type": "line", "color": "#ff0000", "strokeWidth": 1, "clip": true},
 "encoding": {"detail": {"field": "g"}}},
{"data": {"name": "botma"},
 "mark": {"type": "line", "strokeWidth": 3, "clip": true},
 "encoding": {"color": {"field": "k", "type": "nominal", "scale": {"domain": ["b","m","r","c","g","k"], "range": ["#0000ff","#ff00ff","#ff0000","#00ffff","#007a00","#333333"]}, "legend": null}}},
{"data": {"name": "wg"},
 "mark": {"type": "rule", "color": "#000000", "strokeWidth": 1.5},
 "encoding": {"y2": {"field": "v2"}}},
{"data": {"values": [{"d":"2014-10-20","d2":"2015-06-14","v":1988,"v2":1669}]},
 "mark": {"type": "rect", "color": "#ff0000", "cornerRadius": 7},
 "encoding": {"x2": {"field": "d2"}, "y2": {"field": "v2"}}},
{"data": {"values": [{"d":"2015-02-16","v":1915,"t":"国际现"},{"d":"2015-02-16","v":1823,"t":"货金价"},{"d":"2015-02-16","v":1731,"t":"周K线"}]},
 "mark": {"type": "text", "font": "Noto Sans CJK SC", "fontWeight": "bold", "fontSize": 16, "color": "#ffff00", "align": "center", "baseline": "middle"},
 "encoding": {"text": {"field": "t"}}},
{"data": {"name": "bA"}, "mark": {"type": "text", "font": "Noto Sans CJK SC", "fontWeight": "bold", "fontSize": 13, "stroke": "#ffffff", "strokeWidth": 4, "strokeJoin": "round", "fill": "#ffffff"}, "encoding": {"text": {"field": "t"}}},
{"data": {"name": "bA"}, "mark": {"type": "text", "font": "Noto Sans CJK SC", "fontWeight": "bold", "fontSize": 13}, "encoding": {"text": {"field": "t"}, "color": {"field": "k", "type": "nominal", "scale": {"domain": ["b","m","r","c","g","k"], "range": ["#0000ff","#ff00ff","#ff0000","#00ffff","#007a00","#333333"]}, "legend": null}}},
{"data": {"name": "bB"}, "mark": {"type": "text", "font": "Liberation Serif", "fontWeight": "bold", "fontSize": 14, "stroke": "#ffffff", "strokeWidth": 4, "strokeJoin": "round", "fill": "#ffffff"}, "encoding": {"text": {"field": "t"}}},
{"data": {"name": "bB"}, "mark": {"type": "text", "font": "Liberation Serif", "fontWeight": "bold", "fontSize": 14, "color": "#00e5e5"}, "encoding": {"text": {"field": "t"}}},
{"data": {"name": "bC"}, "mark": {"type": "text", "font": "Liberation Mono", "fontWeight": "bold", "fontSize": 12, "stroke": "#ffffff", "strokeWidth": 4, "strokeJoin": "round", "fill": "#ffffff"}, "encoding": {"text": {"field": "t"}}},
{"data": {"name": "bC"}, "mark": {"type": "text", "font": "Liberation Mono", "fontWeight": "bold", "fontSize": 12, "color": "#0000ff"}, "encoding": {"text": {"field": "t"}}},
{"data": {"values": [{"d":"2011-04-11","v":1972,"t":"现货黄金"}]}, "mark": {"type": "text", "font": "Noto Sans CJK SC", "fontSize": 12, "color": "#333333", "align": "left", "baseline": "middle"}, "encoding": {"text": {"field": "t"}}}
]
}
]
}
